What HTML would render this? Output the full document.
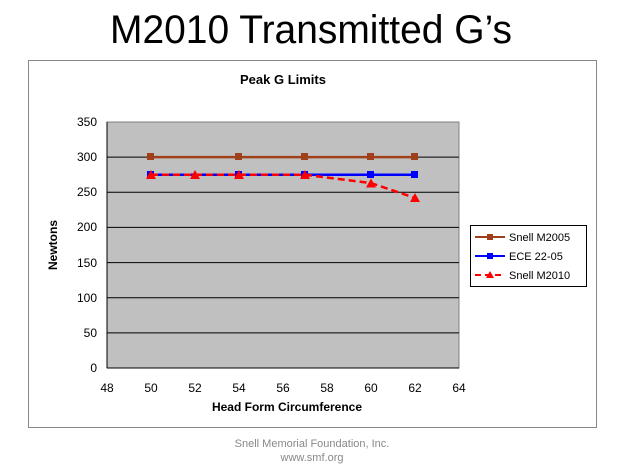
<!DOCTYPE html>
<html><head><meta charset="utf-8"><style>
body{margin:0;background:#fff;width:625px;height:469px;overflow:hidden;font-family:"Liberation Sans",sans-serif}
</style></head><body>
<svg width="625" height="469" xmlns="http://www.w3.org/2000/svg" font-family="Liberation Sans, sans-serif">
<text x="110" y="43" font-size="40" fill="#000" textLength="402" lengthAdjust="spacingAndGlyphs">M2010 Transmitted G’s</text>
<rect x="28.5" y="60.5" width="568" height="367" fill="#fff" stroke="#888"/>
<text x="283" y="84" text-anchor="middle" font-size="13" font-weight="bold">Peak G Limits</text>
<rect x="107" y="122" width="352" height="246" fill="#c0c0c0" stroke="#808080"/>
<g stroke="#000" stroke-width="1">
<line x1="107" y1="157.1" x2="459" y2="157.1"/>
<line x1="107" y1="192.3" x2="459" y2="192.3"/>
<line x1="107" y1="227.4" x2="459" y2="227.4"/>
<line x1="107" y1="262.6" x2="459" y2="262.6"/>
<line x1="107" y1="297.7" x2="459" y2="297.7"/>
<line x1="107" y1="332.9" x2="459" y2="332.9"/>
<line x1="107" y1="122" x2="459" y2="122" stroke="#808080"/>
</g>
<line x1="107" y1="122" x2="107" y2="368" stroke="#000"/>
<line x1="107" y1="368" x2="459" y2="368" stroke="#000"/>
<g font-size="12" text-anchor="end" fill="#000">
<text x="97" y="126">350</text><text x="97" y="161">300</text><text x="97" y="196">250</text>
<text x="97" y="231">200</text><text x="97" y="267">150</text><text x="97" y="302">100</text>
<text x="97" y="337">50</text><text x="97" y="372">0</text>
</g>
<g font-size="12" text-anchor="middle">
<text x="107" y="392">48</text><text x="151" y="392">50</text><text x="195" y="392">52</text>
<text x="239" y="392">54</text><text x="283" y="392">56</text><text x="327" y="392">58</text>
<text x="371" y="392">60</text><text x="415" y="392">62</text><text x="459" y="392">64</text>
</g>
<text x="287" y="411" text-anchor="middle" font-size="12" font-weight="bold">Head Form Circumference</text>
<text transform="translate(57,245) rotate(-90)" text-anchor="middle" font-size="12" font-weight="bold">Newtons</text>
<polyline points="151,157.1 239,157.1 305,157.1 371,157.1 415,157.1" fill="none" stroke="#a0401a" stroke-width="2.5"/>
<g fill="#a0401a"><rect x="147" y="153" width="7" height="7"/><rect x="235" y="153" width="7" height="7"/><rect x="301" y="153" width="7" height="7"/><rect x="367" y="153" width="7" height="7"/><rect x="411" y="153" width="7" height="7"/></g>
<polyline points="151,174.7 239,174.7 305,174.7 371,174.7 415,174.7" fill="none" stroke="#0000ff" stroke-width="2.5"/>
<g fill="#0000ff"><rect x="147" y="171" width="7" height="7"/><rect x="235" y="171" width="7" height="7"/><rect x="301" y="171" width="7" height="7"/><rect x="367" y="171" width="7" height="7"/><rect x="411" y="171" width="7" height="7"/></g>
<polyline points="151,174.7 195,174.7 239,174.7 305,174.7 371,183.1 415,197.9" fill="none" stroke="#ff0000" stroke-width="2.5" stroke-dasharray="7,4"/>
<g fill="#ff0000">
<polygon points="151,170 146,179 156,179"/><polygon points="195,170 190,179 200,179"/><polygon points="239,170 234,179 244,179"/>
<polygon points="305,170 300,179 310,179"/><polygon points="371,178.5 366,187.5 376,187.5"/><polygon points="415,193 410,202 420,202"/>
</g>
<rect x="470.5" y="225.5" width="116" height="61" fill="#fff" stroke="#000"/>
<line x1="475" y1="237" x2="505" y2="237" stroke="#a0401a" stroke-width="2"/><rect x="487" y="234" width="6" height="6" fill="#a0401a"/>
<line x1="475" y1="256" x2="505" y2="256" stroke="#0000ff" stroke-width="2"/><rect x="487" y="253" width="6" height="6" fill="#0000ff"/>
<line x1="475" y1="275" x2="505" y2="275" stroke="#ff0000" stroke-width="2" stroke-dasharray="6,4"/><polygon points="490,271 486,278 494,278" fill="#ff0000"/>
<g font-size="11"><text x="509" y="241">Snell M2005</text><text x="509" y="260">ECE 22-05</text><text x="509" y="279">Snell M2010</text></g>
<g font-size="11" fill="#888" text-anchor="middle"><text x="312" y="447">Snell Memorial Foundation, Inc.</text><text x="312" y="461">www.smf.org</text></g>
</svg>
</body></html>
